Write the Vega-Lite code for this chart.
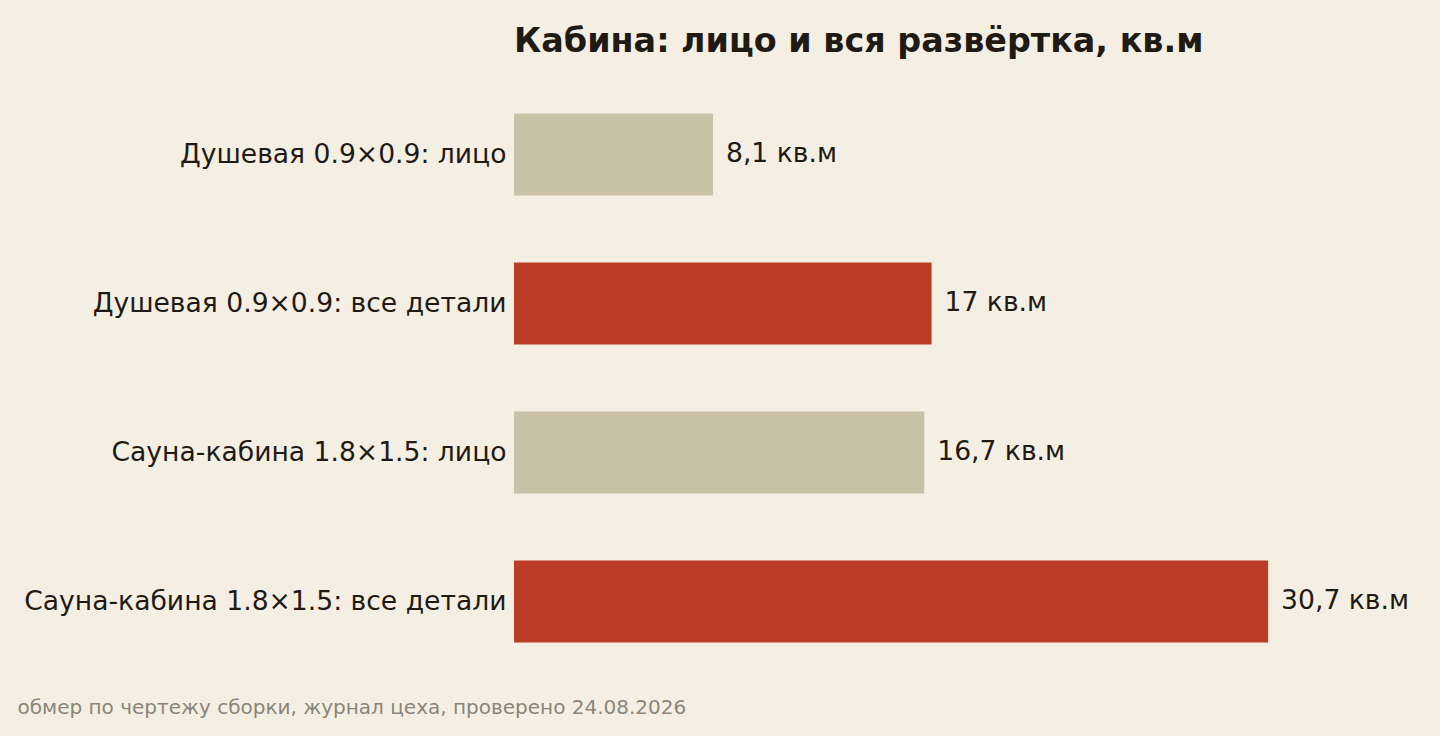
{
  "$schema": "https://vega.github.io/schema/vega-lite/v6.json",
  "width": 900,
  "height": 596,
  "autosize": {"type": "none"},
  "padding": {"left": 514, "top": 80, "right": 26, "bottom": 60},
  "background": "#f5efe3",
  "config": {
    "view": {"stroke": null},
    "font": "DejaVu Sans"
  },
  "title": {
    "text": "Кабина: лицо и вся развёртка, кв.м",
    "anchor": "start",
    "frame": "group",
    "fontSize": 33.4,
    "fontWeight": "bold",
    "color": "#1f1a14",
    "font": "DejaVu Sans",
    "offset": 21
  },
  "data": {
    "values": [
      {"item": "Душевая 0.9×0.9: лицо", "area": 8.1, "kind": "лицо", "label": "8,1 кв.м"},
      {"item": "Душевая 0.9×0.9: все детали", "area": 17, "kind": "все", "label": "17 кв.м"},
      {"item": "Сауна-кабина 1.8×1.5: лицо", "area": 16.7, "kind": "лицо", "label": "16,7 кв.м"},
      {"item": "Сауна-кабина 1.8×1.5: все детали", "area": 30.7, "kind": "все", "label": "30,7 кв.м"}
    ]
  },
  "encoding": {
    "y": {
      "field": "item",
      "type": "nominal",
      "sort": null,
      "scale": {"paddingInner": 0.45, "paddingOuter": 0.225},
      "axis": {
        "title": null,
        "domain": false,
        "ticks": false,
        "labelFontSize": 26.6,
        "labelColor": "#1f1a14",
        "labelPadding": 8,
        "labelLimit": 600
      }
    },
    "x": {
      "field": "area",
      "type": "quantitative",
      "scale": {"domain": [0, 36.64]},
      "axis": {
        "title": "обмер по чертежу сборки, журнал цеха, проверено 24.08.2026",
        "titleAnchor": "start",
        "titleAlign": "left",
        "titleX": -497,
        "titleY": 21,
        "titleFontSize": 20,
        "titleFontWeight": "normal",
        "titleColor": "#8a857a",
        "labels": false,
        "ticks": false,
        "domain": false,
        "grid": false
      }
    }
  },
  "layer": [
    {
      "mark": {"type": "bar"},
      "encoding": {
        "color": {
          "field": "kind",
          "type": "nominal",
          "scale": {"domain": ["лицо", "все"], "range": ["#c9c0a8", "#bc3d27"]},
          "legend": null
        }
      }
    },
    {
      "mark": {"type": "text", "align": "left", "dx": 13, "dy": -1, "fontSize": 26.6, "color": "#1f1a14"},
      "encoding": {
        "text": {"field": "label"}
      }
    }
  ]
}
